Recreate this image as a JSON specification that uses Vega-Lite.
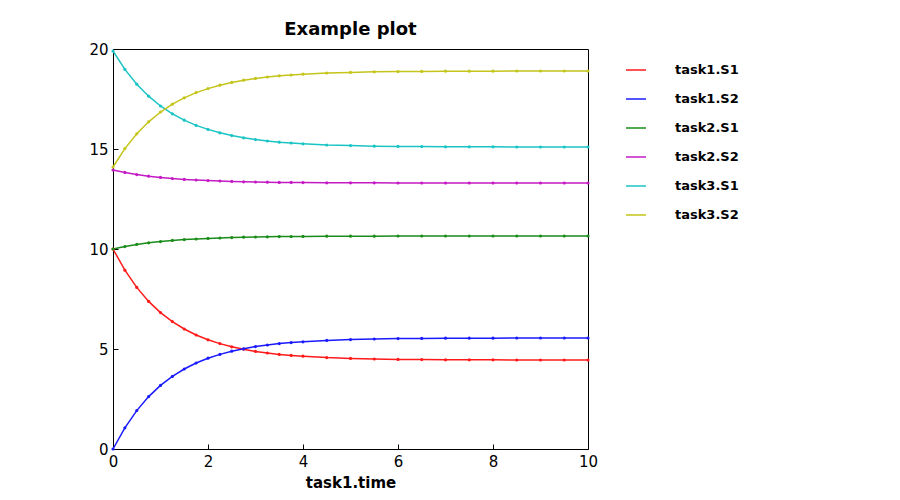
{
  "$schema": "https://vega.github.io/schema/vega-lite/v6.json",
  "width": 475,
  "height": 400,
  "autosize": "none",
  "padding": {"left": 113, "top": 49, "right": 312, "bottom": 51},
  "background": "white",
  "config": {
    "font": "DejaVu Sans",
    "view": {"stroke": "black", "strokeWidth": 1},
    "axis": {"grid": false, "domain": false, "tickColor": "black", "tickSize": -5, "labelPadding": 10, "labelFontSize": 15, "labelColor": "black", "labelFont": "DejaVu Sans", "labelFlush": false}
  },
  "title": {"text": "Example plot", "fontSize": 18, "fontWeight": "bold", "font": "DejaVu Sans", "offset": 3, "color": "black"},
  "data": {"values": [
    {"t": 0, "a": 10, "b": 0, "c": 10, "d": 13.95, "e": 19.9, "f": 14.1},
    {"t": 0.25, "a": 8.94, "b": 1.06, "c": 10.12, "d": 13.83, "e": 18.98, "f": 15.02},
    {"t": 0.5, "a": 8.08, "b": 1.92, "c": 10.23, "d": 13.72, "e": 18.24, "f": 15.76},
    {"t": 0.75, "a": 7.38, "b": 2.62, "c": 10.31, "d": 13.64, "e": 17.64, "f": 16.36},
    {"t": 1, "a": 6.82, "b": 3.18, "c": 10.37, "d": 13.58, "e": 17.15, "f": 16.85},
    {"t": 1.25, "a": 6.37, "b": 3.63, "c": 10.43, "d": 13.52, "e": 16.76, "f": 17.24},
    {"t": 1.5, "a": 6.0, "b": 4.0, "c": 10.47, "d": 13.48, "e": 16.44, "f": 17.56},
    {"t": 1.75, "a": 5.7, "b": 4.3, "c": 10.5, "d": 13.45, "e": 16.18, "f": 17.82},
    {"t": 2, "a": 5.46, "b": 4.54, "c": 10.53, "d": 13.42, "e": 15.98, "f": 18.02},
    {"t": 2.25, "a": 5.27, "b": 4.73, "c": 10.55, "d": 13.4, "e": 15.81, "f": 18.19},
    {"t": 2.5, "a": 5.11, "b": 4.89, "c": 10.57, "d": 13.38, "e": 15.67, "f": 18.33},
    {"t": 2.75, "a": 4.99, "b": 5.01, "c": 10.59, "d": 13.36, "e": 15.56, "f": 18.44},
    {"t": 3, "a": 4.88, "b": 5.12, "c": 10.6, "d": 13.35, "e": 15.47, "f": 18.53},
    {"t": 3.25, "a": 4.8, "b": 5.2, "c": 10.61, "d": 13.34, "e": 15.4, "f": 18.6},
    {"t": 3.5, "a": 4.73, "b": 5.27, "c": 10.62, "d": 13.33, "e": 15.34, "f": 18.66},
    {"t": 3.75, "a": 4.68, "b": 5.32, "c": 10.62, "d": 13.33, "e": 15.3, "f": 18.7},
    {"t": 4, "a": 4.64, "b": 5.36, "c": 10.63, "d": 13.32, "e": 15.26, "f": 18.74},
    {"t": 4.5, "a": 4.57, "b": 5.43, "c": 10.64, "d": 13.31, "e": 15.2, "f": 18.8},
    {"t": 5, "a": 4.53, "b": 5.47, "c": 10.64, "d": 13.31, "e": 15.17, "f": 18.83},
    {"t": 5.5, "a": 4.5, "b": 5.5, "c": 10.64, "d": 13.31, "e": 15.14, "f": 18.86},
    {"t": 6, "a": 4.48, "b": 5.52, "c": 10.65, "d": 13.3, "e": 15.13, "f": 18.87},
    {"t": 6.5, "a": 4.47, "b": 5.53, "c": 10.65, "d": 13.3, "e": 15.12, "f": 18.88},
    {"t": 7, "a": 4.46, "b": 5.54, "c": 10.65, "d": 13.3, "e": 15.11, "f": 18.89},
    {"t": 7.5, "a": 4.46, "b": 5.54, "c": 10.65, "d": 13.3, "e": 15.11, "f": 18.89},
    {"t": 8, "a": 4.46, "b": 5.54, "c": 10.65, "d": 13.3, "e": 15.11, "f": 18.89},
    {"t": 8.5, "a": 4.45, "b": 5.55, "c": 10.65, "d": 13.3, "e": 15.1, "f": 18.9},
    {"t": 9, "a": 4.45, "b": 5.55, "c": 10.65, "d": 13.3, "e": 15.1, "f": 18.9},
    {"t": 9.5, "a": 4.45, "b": 5.55, "c": 10.65, "d": 13.3, "e": 15.1, "f": 18.9},
    {"t": 10, "a": 4.45, "b": 5.55, "c": 10.65, "d": 13.3, "e": 15.1, "f": 18.9}
  ]},
  "transform": [
    {"fold": ["a", "b", "c", "d", "e", "f"], "as": ["key", "value"]},
    {"lookup": "key", "from": {"data": {"values": [
      {"key": "a", "series": "task1.S1"},
      {"key": "b", "series": "task1.S2"},
      {"key": "c", "series": "task2.S1"},
      {"key": "d", "series": "task2.S2"},
      {"key": "e", "series": "task3.S1"},
      {"key": "f", "series": "task3.S2"}
    ]}, "key": "key", "fields": ["series"]}}
  ],
  "mark": {"type": "line", "strokeWidth": 1.5, "point": {"size": 10, "filled": true}},
  "encoding": {
    "x": {"field": "t", "type": "quantitative", "scale": {"domain": [0, 10], "nice": false},
      "axis": {"values": [0, 2, 4, 6, 8, 10], "title": "task1.time", "titleFontSize": 15, "titleFontWeight": "bold", "titleColor": "black", "titlePadding": 6}},
    "y": {"field": "value", "type": "quantitative", "scale": {"domain": [0, 20], "nice": false},
      "axis": {"values": [0, 5, 10, 15, 20], "title": null}},
    "color": {"field": "series", "type": "nominal",
      "scale": {"domain": ["task1.S1", "task1.S2", "task2.S1", "task2.S2", "task3.S1", "task3.S2"],
        "range": ["#ff1a1a", "#1a1aff", "#1a8c1a", "#c41ac4", "#1ac4c4", "#c4c41a"]},
      "legend": {"title": null, "orient": "none", "legendX": 512, "legendY": 10, "symbolType": "stroke", "symbolSize": 400, "symbolStrokeWidth": 1.5, "labelFontSize": 13, "labelFontWeight": "bold", "labelColor": "black", "rowPadding": 11, "labelOffset": 28}}
  }
}
